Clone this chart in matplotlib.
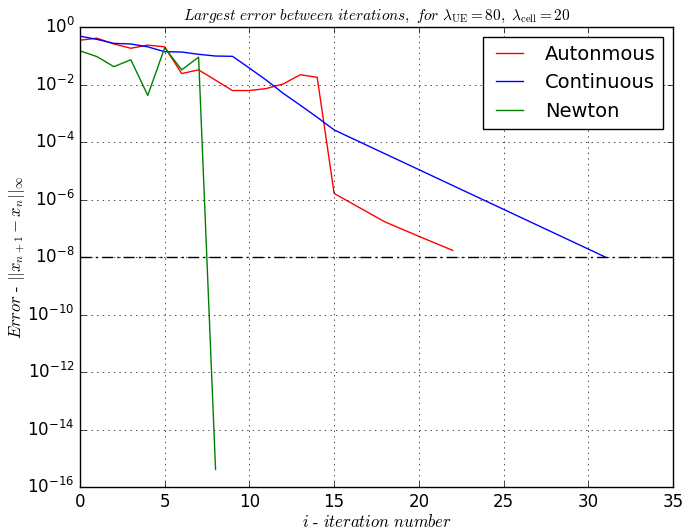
import matplotlib
matplotlib.use("Agg")
import matplotlib.pyplot as plt
import numpy as np

plt.style.use("classic")
plt.rcParams["mathtext.fontset"] = "cm"

# (log10 of error)
auto_it = [0, 1, 2, 3, 4, 5, 6, 7, 8, 9, 10, 11, 12, 13, 14, 15, 18, 20, 22]
auto_log = [-0.46, -0.39, -0.59, -0.74, -0.63, -0.69, -1.62, -1.49, -1.85, -2.21,
            -2.21, -2.14, -1.98, -1.66, -1.75, -5.79, -6.78, -7.28, -7.77]

cont_it = [0, 1, 2, 3, 4, 5, 6, 7, 8, 9, 10, 11, 12, 13, 14, 15, 31]
cont_log = [-0.32, -0.43, -0.57, -0.59, -0.69, -0.86, -0.87, -0.95, -1.01, -1.02,
            -1.43, -1.85, -2.31, -2.72, -3.14, -3.58, -8.0]

newt_it = [0, 1, 2, 3, 4, 5, 6, 7, 8]
newt_log = [-0.83, -1.03, -1.38, -1.14, -2.38, -0.72, -1.49, -1.05, -15.39]

tol = 1e-8

fig = plt.figure(figsize=(6.83, 5.30), dpi=100)
ax = fig.add_axes([80/683, 1-487/530, (673-80)/683, (487-27)/530])

ax.semilogy(auto_it, 10**np.array(auto_log), "r-", label="Autonmous")
ax.semilogy(cont_it, 10**np.array(cont_log), "b-", label="Continuous")
ax.semilogy(newt_it, 10**np.array(newt_log), "g-", label="Newton")
ax.axhline(tol, color="k", linestyle="-.", dashes=(8, 3, 1.5, 3), linewidth=1)

ax.set_xlim(0, 35)
ax.set_ylim(1e-16, 1e0)
ax.set_yticks([10.0**k for k in range(-16, 1, 2)])
ax.yaxis.set_minor_locator(matplotlib.ticker.NullLocator())
ax.grid(True)

ax.set_title(r"$Largest\ error\ between\ iterations,\ for\ \lambda_{\rm UE}=80,\ \lambda_{\rm cell}=20$",
             fontsize=11)
ax.set_xlabel(r"$i\ \text{-}\ iteration\ number$", fontsize=12, labelpad=2)
ax.set_ylabel(r"$Error\ \text{-}\ ||x_{n+1}-x_n||_\infty$", fontsize=12, labelpad=0)
ax.legend(loc="upper right", fontsize=14)

fig.savefig("out.png", dpi=100)
